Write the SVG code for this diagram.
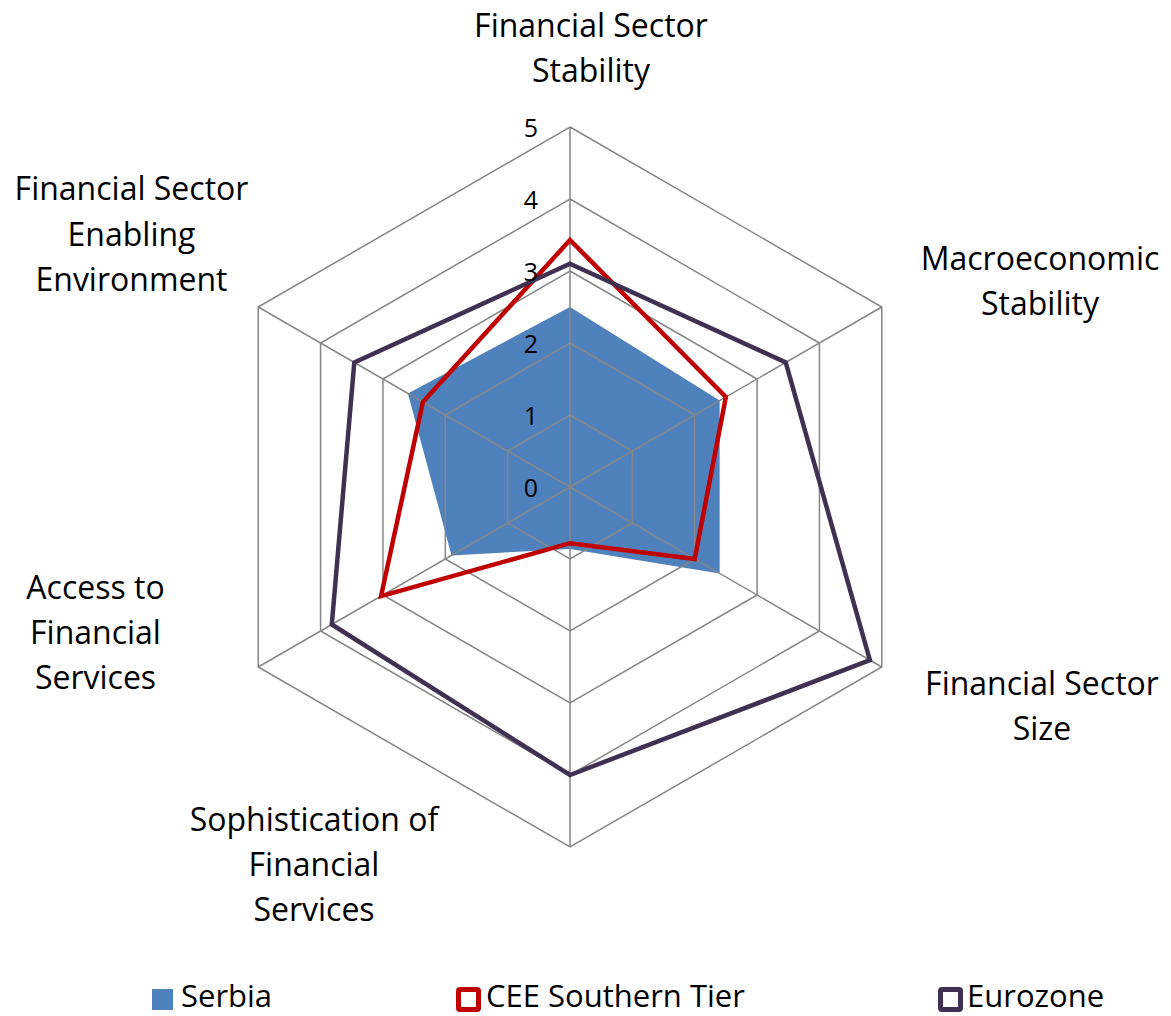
<svg xmlns="http://www.w3.org/2000/svg" width="1171" height="1016" viewBox="0 0 1171 1016">
<style>
.lbl{font-family:"Open Sans","Liberation Sans",sans-serif;font-size:32px;fill:#000;text-anchor:middle}
.leg{font-family:"Open Sans","Liberation Sans",sans-serif;font-size:31px;fill:#000}
.tick{font-family:"Open Sans","Liberation Sans",sans-serif;font-size:25px;fill:#000;text-anchor:end}
.grid{fill:none;stroke:#868686;stroke-width:1.5}
.ser{fill:#4F81BD;stroke:none}
.cee{fill:none;stroke:#C00000;stroke-width:4.5;stroke-linejoin:miter}
.eur{fill:none;stroke:#3F3151;stroke-width:4.5;stroke-linejoin:miter}
</style>
<rect width="1171" height="1016" fill="#fff"/>
<g id="series-serbia">
<polygon class="ser" points="570,307 719.65,400.6 719.65,573.4 570,548.9 451.53,555.4 407.88,393.4"/>
</g>
<g id="grid">
<polygon class="grid" points="570,415 632.35,451 632.35,523 570,559 507.65,523 507.65,451"/>
<polygon class="grid" points="570,343 694.71,415 694.71,559 570,631 445.29,559 445.29,415"/>
<polygon class="grid" points="570,271 757.06,379 757.06,595 570,703 382.94,595 382.94,379"/>
<polygon class="grid" points="570,199 819.42,343 819.42,631 570,775 320.58,631 320.58,343"/>
<polygon class="grid" points="570,127 881.77,307 881.77,667 570,847 258.23,667 258.23,307"/>
<path class="grid" d="M570,487L570,127M570,487L881.77,307M570,487L881.77,667M570,487L570,847M570,487L258.23,667M570,487L258.23,307"/>
</g>
<g id="series-cee">
<polygon class="cee" points="570,240 725.88,397 694.71,559 570,543.2 381.1,596.1 422.9,402"/>
</g>
<g id="series-eurozone">
<polygon class="eur" points="570,263.8 785.7,362.4 869.9,660.2 570,775 331.8,624.5 354.3,362.4"/>
</g>
<g id="axis-ticks">
<text class="tick" x="538" y="497">0</text>
<text class="tick" x="538" y="425">1</text>
<text class="tick" x="538" y="353">2</text>
<text class="tick" x="538" y="281">3</text>
<text class="tick" x="538" y="209">4</text>
<text class="tick" x="538" y="137">5</text>
</g>
<g id="label-fss">
<text class="lbl" x="591" y="37">Financial Sector</text>
<text class="lbl" x="591" y="82">Stability</text>
</g>
<g id="label-macro">
<text class="lbl" x="1040" y="270">Macroeconomic</text>
<text class="lbl" x="1040" y="315">Stability</text>
</g>
<g id="label-size">
<text class="lbl" x="1042" y="695">Financial Sector</text>
<text class="lbl" x="1042" y="740">Size</text>
</g>
<g id="label-soph">
<text class="lbl" x="314" y="831">Sophistication of</text>
<text class="lbl" x="314" y="876">Financial</text>
<text class="lbl" x="314" y="921">Services</text>
</g>
<g id="label-access">
<text class="lbl" x="95.5" y="599">Access to</text>
<text class="lbl" x="95.5" y="644">Financial</text>
<text class="lbl" x="95.5" y="689">Services</text>
</g>
<g id="label-enabling">
<text class="lbl" x="131.5" y="200">Financial Sector</text>
<text class="lbl" x="131.5" y="245.5">Enabling</text>
<text class="lbl" x="131.5" y="291">Environment</text>
</g>
<g id="legend">
<rect x="152" y="989" width="21" height="21" fill="#4F81BD"/>
<text class="leg" x="181" y="1007">Serbia</text>
<rect x="458.5" y="989.5" width="20" height="20" rx="1.5" fill="#fff" stroke="#C00000" stroke-width="5"/>
<text class="leg" x="486" y="1007">CEE Southern Tier</text>
<rect x="940.5" y="989.5" width="20" height="20" rx="1.5" fill="#fff" stroke="#3F3151" stroke-width="5"/>
<text class="leg" x="967" y="1007">Eurozone</text>
</g>
</svg>
